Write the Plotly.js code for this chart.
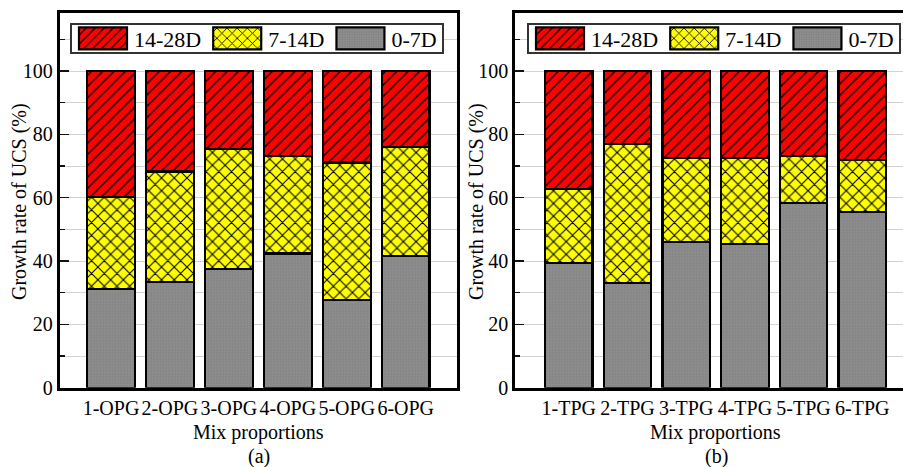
<!DOCTYPE html>
<html>
<head>
<meta charset="utf-8">
<script src="https://cdn.plot.ly/plotly-3.0.1.min.js"></script>
<style>
  html, body { margin: 0; padding: 0; background: #ffffff; }
  #chart { width: 903px; height: 467px; }
</style>
</head>
<body>
<div id="chart"></div>
<script>
// Mix proportions (x categories) of the two panels
const opgMixes = ['1-OPG', '2-OPG', '3-OPG', '4-OPG', '5-OPG', '6-OPG'];
const tpgMixes = ['1-TPG', '2-TPG', '3-TPG', '4-TPG', '5-TPG', '6-TPG'];

// Share of the 28-day UCS gained within each curing interval (%)
const opgGrowth0to7   = [31.1, 33.5, 37.5, 42.4, 27.8, 41.6];
const opgGrowth7to14  = [29.1, 34.8, 37.9, 30.8, 43.3, 34.5];
const opgGrowth14to28 = [39.8, 31.7, 24.6, 26.8, 28.9, 23.9];

const tpgGrowth0to7   = [39.5, 33.1, 45.9, 45.5, 58.3, 55.6];
const tpgGrowth7to14  = [23.3, 43.9, 26.6, 27.0, 14.8, 16.4];
const tpgGrowth14to28 = [37.2, 23.0, 27.5, 27.5, 26.9, 28.0];

const periodNames = ['0-7D', '7-14D', '14-28D'];
const yTickVals = [0, 20, 40, 60, 80, 100];

const SERIF = 'Liberation Serif, Times New Roman, serif';
const W = 903, H = 467;
const px = v => v / W;          // pixel column -> paper x
const py = v => 1 - v / H;      // pixel row -> paper y

// Fill style of each curing interval
const periodStyles = [
  { color: '#8e8e8e', pattern: { shape: '.', bgcolor: '#919191', fgcolor: '#818181', fgopacity: 1, size: 3, solidity: 0.45 } },
  { color: '#ffff00', pattern: { shape: 'x', bgcolor: '#ffff00', fgcolor: '#000000', fgopacity: 1, size: 9, solidity: 0.22 } },
  { color: '#ff0000', pattern: { shape: '/', bgcolor: '#ff0000', fgcolor: '#000000', fgopacity: 1, size: 8, solidity: 0.18 } }
];

function stackTraces(mixes, seriesList, xa, ya, legendId) {
  return seriesList.map((vals, i) => ({
    type: 'bar',
    name: periodNames[i],
    x: mixes,
    y: vals,
    xaxis: xa,
    yaxis: ya,
    legend: legendId,
    marker: {
      color: periodStyles[i].color,
      pattern: periodStyles[i].pattern,
      line: { color: '#000000', width: 2.2 }
    },
    hoverinfo: 'x+y+name'
  }));
}

const data = [
  ...stackTraces(opgMixes, [opgGrowth0to7, opgGrowth7to14, opgGrowth14to28], 'x', 'y', 'legend'),
  ...stackTraces(tpgMixes, [tpgGrowth0to7, tpgGrowth7to14, tpgGrowth14to28], 'x2', 'y2', 'legend2')
];

const tickFont = { family: SERIF, size: 20, color: '#000000' };
const gridColor = '#d2d2d2';

function yAxis(anchor, mirror) {
  return {
    anchor: anchor,
    domain: [py(387.7), py(12.5)],
    range: [0, 118.5],
    tickmode: 'array',
    tickvals: yTickVals,
    ticks: 'inside',
    ticklen: 9,
    tickwidth: 1.5,
    tickcolor: '#111111',
    showgrid: true,
    gridcolor: gridColor,
    gridwidth: 1,
    minor: { dtick: 10, tick0: 0, ticks: 'inside', ticklen: 5, tickwidth: 1.5, tickcolor: '#111111', showgrid: true, gridcolor: gridColor, gridwidth: 1 },
    showline: true,
    linewidth: 3,
    linecolor: '#000000',
    mirror: mirror,
    zeroline: false,
    tickfont: tickFont,
    automargin: false,
    fixedrange: true
  };
}

function xAxis(anchor, domain, range) {
  return {
    anchor: anchor,
    type: 'category',
    domain: domain,
    range: range,
    ticks: '',
    showgrid: false,
    showline: true,
    linewidth: 3,
    linecolor: '#000000',
    mirror: true,
    zeroline: false,
    tickfont: tickFont,
    automargin: false,
    fixedrange: true
  };
}

function legendBox(xPix) {
  return {
    x: px(xPix),
    y: py(38.5),
    xanchor: 'left',
    yanchor: 'middle',
    orientation: 'h',
    traceorder: 'reversed',
    font: { family: SERIF, size: 22, color: '#000000' },
    bgcolor: '#ffffff',
    bordercolor: '#333333',
    borderwidth: 2,
    itemwidth: 52,
    itemclick: false,
    itemdoubleclick: false
  };
}

const textFont = { family: SERIF, size: 20, color: '#000000' };
function note(text, x, y, angle) {
  return { text: text, xref: 'paper', yref: 'paper', x: px(x), y: py(y), xanchor: 'center', yanchor: 'middle', showarrow: false, font: textFont, textangle: angle || 0 };
}

const layout = {
  width: W,
  height: H,
  margin: { l: 0, r: 0, t: 0, b: 0 },
  paper_bgcolor: '#ffffff',
  plot_bgcolor: '#ffffff',
  barmode: 'stack',
  bargap: 0.19,
  showlegend: true,
  xaxis: xAxis('y', [px(59.7), px(457)], [-0.87, 5.87]),
  yaxis: yAxis('x', true),
  xaxis2: xAxis('y2', [px(515.3), 1], [-0.912, 5.695]),
  yaxis2: yAxis('x2', false),
  legend: legendBox(70),
  legend2: legendBox(527),
  annotations: [
    note('Growth rate of UCS (%)', 20, 202, -90),
    note('Growth rate of UCS (%)', 477, 202, -90),
    note('Mix proportions', 258.4, 432),
    note('Mix proportions', 715.5, 432),
    note('(a)', 259, 456),
    note('(b)', 716, 456)
  ]
};

Plotly.newPlot('chart', data, layout, { displayModeBar: false, staticPlot: true }).then(gd => {
  // wider, rectangular legend swatches
  gd.querySelectorAll('.legendpoints path').forEach(p => p.setAttribute('d', 'M24,11H-24V-11H24Z'));
  // a snugger legend frame, kept centred on its row of entries
  gd.querySelectorAll('.infolayer > g[class^="legend"] > rect.bg').forEach(r => {
    const h = parseFloat(r.getAttribute('height'));
    const y = parseFloat(r.getAttribute('y')) || 0;
    const target = 29;
    if (h > target) {
      r.setAttribute('y', y + (h - target) / 2);
      r.setAttribute('height', target);
    }
  });
});
</script>
</body>
</html>
